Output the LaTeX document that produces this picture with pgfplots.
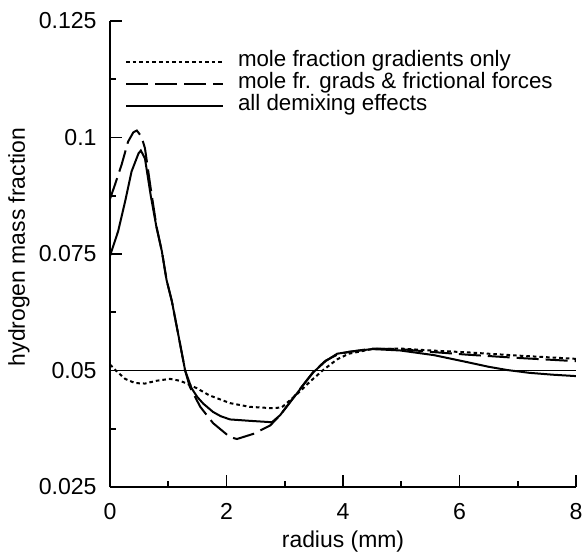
\documentclass[border=0pt]{standalone}
\usepackage{fontspec}
\setmainfont{Liberation Sans}
\usepackage{pgfplots}
\pgfplotsset{compat=1.18}
\newcommand\tlfont{\fontsize{11.6}{14}\selectfont}
\begin{document}
\begin{tikzpicture}
\begin{axis}[
  scale only axis, width=233bp, height=233bp,
  xmin=0, xmax=8, ymin=0.025, ymax=0.125,
  axis x line=bottom, axis y line=left,
  axis line style={-, line width=1bp},
  tick align=inside,
  xtick={0,2,4,6,8}, xticklabels={\tlfont 0,\tlfont 2,\tlfont 4,\tlfont 6,\tlfont 8},
  minor xtick={1,3,5,7},
  ytick={0.025,0.05,0.075,0.1,0.125},
  yticklabels={\tlfont 0.025,\tlfont 0.05,\tlfont 0.075,\tlfont 0.1,\tlfont 0.125},
  minor ytick={0.0375,0.0625,0.0875,0.1125},
  major tick length=6bp, minor tick length=3bp,
  tick style={line width=0.9bp, black},
  /pgf/number format/assume math mode=true,
  xticklabel style={inner sep=0pt, anchor=north, yshift=-8bp, font=\tlfont},
  yticklabel style={inner sep=0pt, anchor=east, xshift=-6.5bp, font=\tlfont},
  xlabel={radius (mm)}, ylabel={hydrogen mass fraction},
  label style={font=\fontsize{11.5}{14}\selectfont},
  xlabel style={at={(axis description cs:0.5,-0.1288)}, anchor=base, inner sep=0pt},
  ylabel style={at={(axis description cs:-0.1953,0.515)}, anchor=center, inner sep=0pt},
  legend cell align=left,
  legend image code/.code={\draw[#1] (0bp,0bp) -- (48.5bp,0bp);},
  legend style={draw=none, fill=none, inner sep=0pt, outer sep=0pt,
    at={(axis description cs:0.0322,0.8657)}, anchor=west,
    row sep=0pt, column sep=7bp, font=\fontsize{11.2}{13}\selectfont,
    nodes={inner sep=0pt, text height=8bp, text depth=3bp}},
]
\addplot[black, line width=1bp, dash pattern=on 1.8bp off 1.5bp] coordinates {
(0,0.0513)(0.1,0.0500)(0.26,0.0482)(0.43,0.0473)(0.6,0.0472)(0.8,0.0478)(1.03,0.0482)
(1.2,0.0478)(1.3,0.0473)(1.49,0.0462)(1.7,0.0447)(2.06,0.0430)(2.4,0.0422)(2.8,0.0419)
(2.95,0.0421)(3.2,0.0448)(3.45,0.0478)(3.65,0.0500)(3.9,0.0524)(4.1,0.0536)(4.5,0.0546)
(5.0,0.0547)(5.5,0.0543)(6.13,0.0539)(7,0.0532)(8,0.0525)};
\addlegendentry{mole fraction gradients only}
\addplot[black, line width=1bp, dash pattern=on 11bp off 3.5bp] coordinates {
(0,0.0868)(0.086,0.0899)(0.2,0.0942)(0.31,0.0991)(0.40,0.1011)(0.46,0.1015)(0.54,0.1002)
(0.60,0.0977)(0.7,0.0890)(0.8,0.0808)(0.89,0.0756)(0.97,0.0695)(1.06,0.0650)(1.18,0.0572)
(1.29,0.0500)(1.37,0.0465)(1.55,0.0422)(1.77,0.0387)(2.06,0.0357)(2.18,0.0353)(2.46,0.0364)
(2.75,0.0382)(2.92,0.0404)(3.21,0.0452)(3.49,0.0497)(3.7,0.0521)(3.9,0.0534)(4.1,0.0540)
(4.5,0.0547)(4.98,0.0546)(5.5,0.0540)(6.13,0.0534)(7,0.0527)(8,0.0520)};
\addlegendentry{mole fr. grads \& frictional forces}
\addplot[black, line width=1bp] coordinates {
(0,0.0746)(0.14,0.0799)(0.26,0.0863)(0.37,0.0927)(0.49,0.0966)(0.53,0.0972)(0.6,0.0955)
(0.7,0.0875)(0.8,0.0806)(0.89,0.0756)(0.97,0.0695)(1.06,0.0650)(1.18,0.0572)(1.29,0.0500)
(1.4,0.0462)(1.5,0.0443)(1.6,0.0429)(1.77,0.0411)(1.9,0.0402)(2.06,0.0395)(2.4,0.0392)
(2.78,0.0389)(2.92,0.0404)(3.05,0.0425)(3.21,0.0451)(3.35,0.0474)(3.49,0.0496)(3.7,0.0520)
(3.9,0.0536)(4.1,0.0540)(4.5,0.0546)(4.98,0.0543)(5.56,0.0533)(6.13,0.0518)(6.5,0.0508)
(6.82,0.0501)(7.2,0.0495)(7.6,0.0491)(8.0,0.0488)};
\addlegendentry{all demixing effects}
\addplot[black, line width=0.7bp, forget plot] coordinates {(0,0.05) (8,0.05)};
\end{axis}
\pgfresetboundingbox
\path[use as bounding box] (-55bp,-34bp) rectangle (237bp,243.5bp);
\end{tikzpicture}
\end{document}
